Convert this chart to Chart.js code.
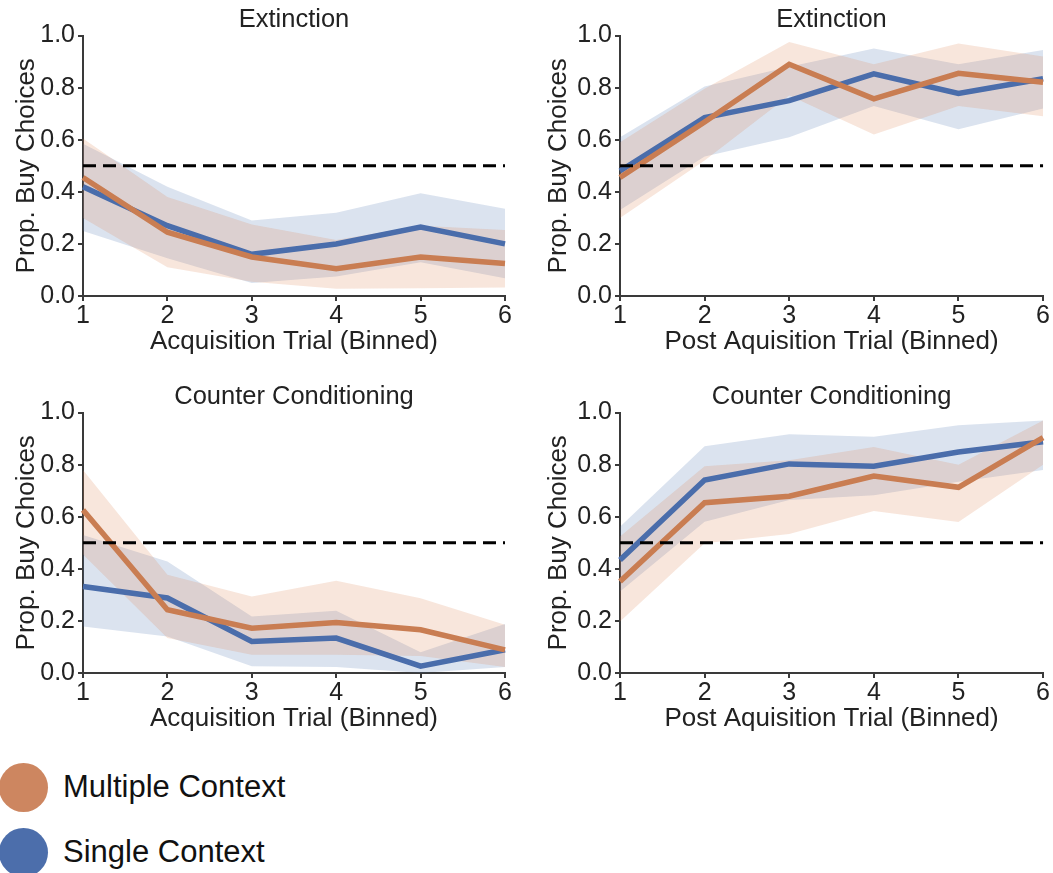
<!DOCTYPE html>
<html>
<head>
<meta charset="utf-8">
<script src="https://cdn.jsdelivr.net/npm/chart.js@4.4.1/dist/chart.umd.min.js"></script>
<style>
  body { margin: 0; background: #fff; width: 1053px; height: 873px; overflow: hidden; position: relative; font-family: "Liberation Sans", Arial, sans-serif; }
  .panel { position: absolute; }
  .legend { position: absolute; left: 0; }
  .legend .dot { position: absolute; width: 49px; height: 49px; border-radius: 50%; left: -1px; }
  .legend .txt { position: absolute; left: 63px; font-size: 31px; color: #111; white-space: nowrap; }
</style>
</head>
<body>
<canvas id="p1" class="panel"></canvas>
<canvas id="p2" class="panel"></canvas>
<canvas id="p3" class="panel"></canvas>
<canvas id="p4" class="panel"></canvas>
<div class="legend" id="legend"></div>
<script>
// trial bins and axis ticks
const trials = ["1", "2", "3", "4", "5", "6"];
const chance = [0.5, 0.5, 0.5, 0.5, 0.5, 0.5];

// Extinction - acquisition
const extAcqSingle = [0.42, 0.27, 0.16, 0.20, 0.265, 0.20];
const extAcqSingleHi = [0.585, 0.42, 0.29, 0.32, 0.395, 0.335];
const extAcqSingleLo = [0.25, 0.145, 0.05, 0.075, 0.13, 0.068];
const extAcqMultiple = [0.455, 0.245, 0.15, 0.105, 0.15, 0.125];
const extAcqMultipleHi = [0.605, 0.38, 0.275, 0.215, 0.27, 0.253];
const extAcqMultipleLo = [0.30, 0.11, 0.055, 0.028, 0.03, 0.033];

// Extinction - post acquisition
const extPostSingle = [0.48, 0.685, 0.75, 0.853, 0.778, 0.834];
const extPostSingleHi = [0.61, 0.805, 0.88, 0.95, 0.89, 0.945];
const extPostSingleLo = [0.33, 0.536, 0.61, 0.73, 0.64, 0.72];
const extPostMultiple = [0.455, 0.668, 0.89, 0.757, 0.855, 0.821];
const extPostMultipleHi = [0.59, 0.796, 0.975, 0.89, 0.97, 0.92];
const extPostMultipleLo = [0.30, 0.52, 0.77, 0.62, 0.73, 0.69];

// Counter conditioning - acquisition
const ccAcqSingle = [0.332, 0.288, 0.121, 0.134, 0.026, 0.089];
const ccAcqSingleHi = [0.53, 0.428, 0.217, 0.239, 0.08, 0.188];
const ccAcqSingleLo = [0.179, 0.14, 0.026, 0.023, 0.0, 0.023];
const ccAcqMultiple = [0.626, 0.243, 0.172, 0.194, 0.166, 0.089];
const ccAcqMultipleHi = [0.78, 0.377, 0.294, 0.354, 0.287, 0.185];
const ccAcqMultipleLo = [0.455, 0.134, 0.07, 0.07, 0.065, 0.023];

// Counter conditioning - post acquisition
const ccPostSingle = [0.434, 0.741, 0.803, 0.794, 0.849, 0.888];
const ccPostSingleHi = [0.562, 0.871, 0.917, 0.907, 0.951, 0.97];
const ccPostSingleLo = [0.313, 0.581, 0.664, 0.683, 0.734, 0.78];
const ccPostMultiple = [0.351, 0.654, 0.679, 0.756, 0.713, 0.904];
const ccPostMultipleHi = [0.524, 0.794, 0.817, 0.868, 0.80, 0.97];
const ccPostMultipleLo = [0.198, 0.498, 0.534, 0.622, 0.58, 0.80];

const BLUE = "#4a6dab";
const ORANGE = "#c97d52";
const BLUE_BAND = "rgba(76, 114, 176, 0.2)";
const ORANGE_BAND = "rgba(221, 132, 82, 0.2)";
const AXIS = "#3a3a3a";
const FONT = "'Liberation Sans', Arial, sans-serif";

function band(data, fill, color) {
    return { data: data, fill: fill, backgroundColor: color, borderWidth: 0, pointRadius: 0 };
}

function line(label, data, color) {
    return { label: label, data: data, borderColor: color, borderWidth: 5.5, pointRadius: 0, fill: false, tension: 0 };
}

/** One panel: canvas placement plus its own series */
function panel(id, box, title, xTitle, s) {
    const el = document.getElementById(id);
    el.style.left = box.left + "px";
    el.style.top = box.top + "px";
    el.style.width = box.width + "px";
    el.style.height = box.height + "px";
    el.width = box.width;
    el.height = box.height;

    new Chart(el, {
        type: "line",
        data: {
            labels: trials,
            datasets: [
                { data: chance, borderColor: "#000", borderWidth: 3, borderDash: [13, 7], pointRadius: 0, fill: false },
                line("Multiple Context", s.multiple, ORANGE),
                line("Single Context", s.single, BLUE),
                band(s.multipleHi, "+1", ORANGE_BAND),
                band(s.multipleLo, false, ORANGE_BAND),
                band(s.singleHi, "+1", BLUE_BAND),
                band(s.singleLo, false, BLUE_BAND)
            ]
        },
        options: {
            responsive: false,
            animation: false,
            events: [],
            layout: { padding: { left: 0, right: box.padRight, top: 0, bottom: 0 } },
            plugins: {
                legend: { display: false },
                tooltip: { enabled: false },
                title: {
                    display: true,
                    fullSize: false,
                    text: title,
                    color: "#222",
                    font: { family: FONT, size: 25.5, weight: "normal", lineHeight: 1.2 },
                    padding: { top: 5, bottom: 0 }
                }
            },
            scales: {
                x: {
                    offset: false,
                    afterFit: function(scale) { scale.height = 74; },
                    grid: { drawOnChartArea: false, drawTicks: true, tickLength: 5, color: AXIS, lineWidth: 2 },
                    border: { display: true, color: AXIS, width: 2 },
                    ticks: { color: "#222", padding: 3, maxRotation: 0, font: { family: FONT, size: 25, lineHeight: 1 } },
                    title: {
                        display: true,
                        text: xTitle,
                        color: "#222",
                        font: { family: FONT, size: 26, lineHeight: 1.2 },
                        padding: { top: 0, bottom: 13 }
                    }
                },
                y: {
                    min: 0,
                    max: 1,
                    afterFit: function(scale) { scale.width = box.yWidth; },
                    grid: { drawOnChartArea: false, drawTicks: true, tickLength: 5, color: AXIS, lineWidth: 2 },
                    border: { display: true, color: AXIS, width: 2 },
                    ticks: {
                        stepSize: 0.2,
                        color: "#222",
                        padding: 3,
                        font: { family: FONT, size: 25 },
                        callback: function(v) { return v.toFixed(1); }
                    },
                    title: {
                        display: true,
                        text: "Prop. Buy Choices",
                        color: "#222",
                        font: { family: FONT, size: 26, lineHeight: 1.2 },
                        padding: { top: box.yTitlePad, bottom: 0 }
                    }
                }
            }
        }
    });
}

panel("p1", { left: 0, top: 0, width: 530, height: 370, padRight: 25, yWidth: 83, yTitlePad: 11 },
    "Extinction", "Acquisition Trial (Binned)",
    { single: extAcqSingle, singleHi: extAcqSingleHi, singleLo: extAcqSingleLo,
      multiple: extAcqMultiple, multipleHi: extAcqMultipleHi, multipleLo: extAcqMultipleLo });

panel("p2", { left: 530, top: 0, width: 523, height: 370, padRight: 6, yWidth: 90, yTitlePad: 13 },
    "Extinction", "Post Aquisition Trial (Binned)",
    { single: extPostSingle, singleHi: extPostSingleHi, singleLo: extPostSingleLo,
      multiple: extPostMultiple, multipleHi: extPostMultipleHi, multipleLo: extPostMultipleLo });

panel("p3", { left: 0, top: 377, width: 530, height: 370, padRight: 25, yWidth: 83, yTitlePad: 11 },
    "Counter Conditioning", "Acquisition Trial (Binned)",
    { single: ccAcqSingle, singleHi: ccAcqSingleHi, singleLo: ccAcqSingleLo,
      multiple: ccAcqMultiple, multipleHi: ccAcqMultipleHi, multipleLo: ccAcqMultipleLo });

panel("p4", { left: 530, top: 377, width: 523, height: 370, padRight: 6, yWidth: 90, yTitlePad: 13 },
    "Counter Conditioning", "Post Aquisition Trial (Binned)",
    { single: ccPostSingle, singleHi: ccPostSingleHi, singleLo: ccPostSingleLo,
      multiple: ccPostMultiple, multipleHi: ccPostMultipleHi, multipleLo: ccPostMultipleLo });

// shared legend below the panels
const legendItems = [
    { label: "Multiple Context", color: "#cd8660", y: 787 },
    { label: "Single Context", color: "#4c6eab", y: 852 }
];
const legend = document.getElementById("legend");
legendItems.forEach(function(item) {
    const dot = document.createElement("div");
    dot.className = "dot";
    dot.style.background = item.color;
    dot.style.top = (item.y - 24) + "px";
    legend.appendChild(dot);
    const txt = document.createElement("div");
    txt.className = "txt";
    txt.textContent = item.label;
    txt.style.top = (item.y - 18) + "px";
    legend.appendChild(txt);
});
</script>
</body>
</html>
